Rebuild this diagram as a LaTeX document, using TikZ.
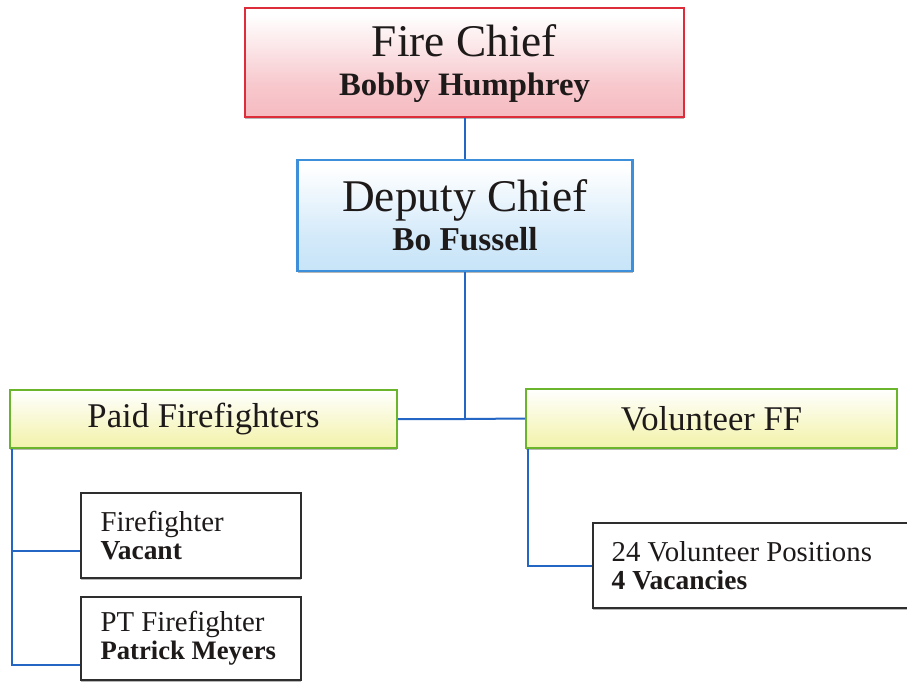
\documentclass[tikz,border=0pt]{standalone}
\usepackage{fontspec}
\setmainfont{Liberation Serif}
\usetikzlibrary{calc,shadows}

\definecolor{chiefred}{HTML}{DD2C3A}
\definecolor{chiefpink}{HTML}{F2A4AC}
\definecolor{deputyblue}{HTML}{3D8FDA}
\definecolor{deputysky}{HTML}{B5DBF6}
\definecolor{crewgreen}{HTML}{6BB52C}
\definecolor{crewyellow}{HTML}{EFEF94}
\definecolor{linkblue}{HTML}{2466C4}
\definecolor{cardedge}{HTML}{2E2E2E}
\definecolor{cardhaze}{HTML}{C6C3EA}
\definecolor{inktext}{HTML}{1E1A1A}

% vertical fades (defined bottom to top)
\pgfdeclareverticalshading{chieffade}{100bp}{color(0bp)=(chiefpink); color(40bp)=(chiefpink!60); color(72bp)=(white); color(100bp)=(white)}
\pgfdeclareverticalshading{deputyfade}{100bp}{color(0bp)=(deputysky); color(40bp)=(deputysky!60); color(72bp)=(white); color(100bp)=(white)}
\pgfdeclareverticalshading{crewfade}{100bp}{color(0bp)=(crewyellow); color(35bp)=(crewyellow!65); color(75bp)=(white); color(100bp)=(white)}
\pgfdeclareverticalshading{cardfade}{100bp}{color(0bp)=(cardhaze); color(10bp)=(cardhaze!85); color(24bp)=(white); color(100bp)=(white)}

\begin{document}
\begin{tikzpicture}[x=0.75pt,y=-0.75pt,
  softshadow/.style={drop shadow={shadow xshift=0pt, shadow yshift=-1.8pt, opacity=.4, fill=black!70}},
  headbox/.style={draw, line width=1.7pt, align=center, text=inktext, inner sep=0pt, softshadow},
  chiefbox/.style={headbox, draw=chiefred, shading=chieffade},
  deputybox/.style={headbox, draw=deputyblue, shading=deputyfade},
  crewbox/.style={headbox, draw=crewgreen, line width=1.4pt, shading=crewfade,
    font=\fontsize{26pt}{30pt}\selectfont},
  cardbox/.style={draw=cardedge, line width=1.5pt, shading=cardfade, align=flush left, softshadow,
    text=inktext, inner ysep=0pt, font=\fontsize{21.6pt}{21pt}\selectfont},
  link/.style={draw=linkblue, line width=1.5pt},
  big/.style={font=\fontsize{34pt}{29pt}\selectfont}]
\clip (0,0) rectangle (907,682);
\fill[white] (0,0) rectangle (907,682);

% top of the chain of command
\node[chiefbox, big, minimum width=329.25pt, minimum height=81.75pt] (fc) at (464.5,62.5)
  {\rule{0pt}{26pt}Fire Chief\\ {\fontsize{24.5pt}{29pt}\selectfont\bfseries Bobby Humphrey}};
\node[deputybox, big, minimum width=251.25pt, minimum height=83.25pt] (dc) at (465,215.5)
  {Deputy Chief\\ {\fontsize{25pt}{29pt}\selectfont\bfseries Bo Fussell}};

% divisions
\node[crewbox, minimum width=290.25pt, minimum height=43.5pt] (pf) at (203.5,419) {Paid Firefighters};
\node[crewbox, minimum width=278.25pt, minimum height=44.25pt] (vf) at (711.5,418.5) {Volunteer FF};

% positions
\node[cardbox, text width=135pt, inner xsep=15pt, minimum height=63.75pt] (ff) at (190.5,535.5)
  {\mbox{Firefighter}\\ \mbox{\fontsize{20.6pt}{21pt}\selectfont\bfseries Vacant}};
\node[cardbox, text width=135pt, inner xsep=15pt, minimum height=62.25pt] (pt) at (190.5,638.5)
  {\mbox{PT Firefighter}\\ \mbox{\fontsize{20pt}{21pt}\selectfont\bfseries Patrick Meyers}};
\node[cardbox, text width=213.5pt, inner xsep=14pt, minimum height=63.75pt] (vp) at (754,565.5)
  {\mbox{24 Volunteer Positions}\\ \mbox{\fontsize{20.6pt}{21pt}\selectfont\bfseries 4 Vacancies}};

% connectors
\coordinate (hub) at (dc.south |- pf.east);
\draw[link] (fc.south -| dc.north) -- (dc.north);
\draw[link] (dc.south) -- (hub);
\draw[link] (pf.east) -- (hub) -- (vf.west);
\coordinate (paidtrunk) at ([shift={(3,0)}]pf.south west);
\draw[link] (paidtrunk) |- ([shift={(0,15.5)}]ff.west);
\draw[link] (paidtrunk) |- ([shift={(0,-16.5)}]pt.south west);
\coordinate (voltrunk) at ([shift={(3,0)}]vf.south west);
\draw[link] (voltrunk) |- (vp.west);
\end{tikzpicture}
\end{document}
